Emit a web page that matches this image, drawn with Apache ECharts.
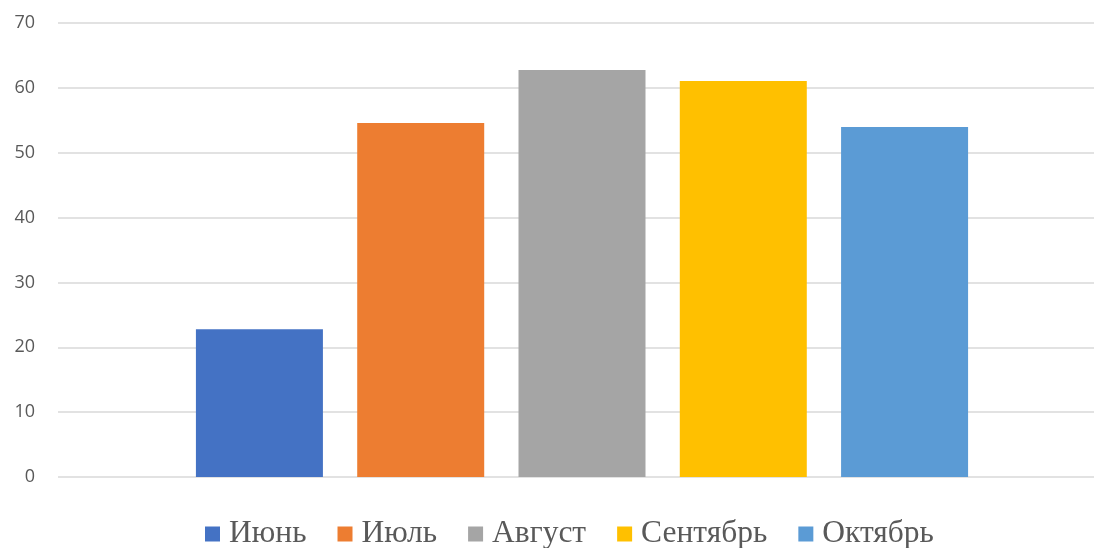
<!DOCTYPE html>
<html><head><meta charset="utf-8">
<script src="https://cdn.jsdelivr.net/npm/echarts@6/dist/echarts.min.js"></script>
<style>html,body{margin:0;padding:0;background:#fff}#c{width:1094px;height:548px}</style>
</head><body><div id="c"></div>
<script>
const categories = [""];
const seriesNames = ["Июнь", "Июль", "Август", "Сентябрь", "Октябрь"];
const seriesValues = [22.8, 54.6, 62.75, 61.05, 53.95];
const seriesColors = ["#4472C4", "#ED7D31", "#A5A5A5", "#FFC000", "#5B9BD5"];
const yTicks = [0, 10, 20, 30, 40, 50, 60, 70];

const chart = echarts.init(document.getElementById('c'));
chart.setOption({
  animation: false,
  backgroundColor: '#fff',
  grid: [
    { left: 58, right: 0, top: 23, bottom: 71 },
    { left: 70, right: 0, top: 23, bottom: 71 }
  ],
  legend: {
    left: 205, bottom: -2, padding: 0,
    itemWidth: 15, itemHeight: 15, itemGap: 31,
    icon: 'rect',
    textStyle: { fontFamily: 'Liberation Serif', fontSize: 31.5, color: '#595959', padding: [0,0,0,4] },
    data: seriesNames
  },
  xAxis: [
    { type: 'category', gridIndex: 0, data: categories,
      axisLine: { show: false }, axisTick: { show: false }, axisLabel: { show: false } },
    { type: 'category', gridIndex: 1, data: categories,
      axisLine: { show: false }, axisTick: { show: false }, axisLabel: { show: false } }
  ],
  yAxis: [
    { type: 'value', gridIndex: 0, min: yTicks[0], max: yTicks[yTicks.length-1], interval: 10,
      axisLine: { show: false }, axisTick: { show: false },
      axisLabel: { fontFamily: 'Open Sans', fontSize: 18, color: '#595959', margin: 23 },
      splitLine: { lineStyle: { color: '#D9D9D9', width: 1.5 } } },
    { type: 'value', gridIndex: 1, min: yTicks[0], max: yTicks[yTicks.length-1], interval: 10,
      show: false, splitLine: { show: false } }
  ],
  series: seriesNames.map((n, i) => ({
    name: n, type: 'bar', data: [seriesValues[i]],
    xAxisIndex: 1, yAxisIndex: 1,
    barWidth: 127, barGap: '27%',
    itemStyle: { color: seriesColors[i] }
  }))
});
</script></body></html>
